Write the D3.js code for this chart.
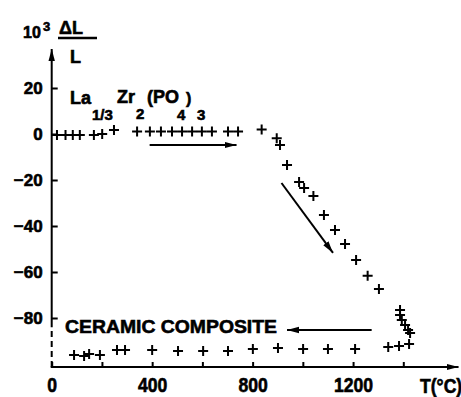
<!DOCTYPE html>
<html><head><meta charset="utf-8">
<script src="https://cdn.jsdelivr.net/npm/d3@7/dist/d3.min.js"></script>
<style>
html,body{margin:0;padding:0;background:#fff;}
svg text{font-family:"Liberation Sans",Arial,Helvetica,sans-serif;font-weight:bold;fill:#000;stroke:#000;stroke-width:0.6px;}
</style></head><body>
<svg id="chart" width="461" height="397"></svg>
<script>
// Heating run: La1/3Zr2(PO4)3, 10^3 ΔL/L versus temperature
const heatT = [21, 55, 84, 112, 168, 201, 248,
  340, 391, 435, 479, 519, 559, 598, 638, 702, 742,
  836, 896, 909, 937, 985, 1005, 1042, 1084, 1128, 1168, 1212, 1258, 1303,
  1387, 1387, 1394, 1407, 1419, 1427];
const heatV = [-0.4, -0.4, -0.4, -0.4, -0.4, 0, 1.7,
  1.1, 1.1, 1.1, 1.1, 1.1, 1.1, 1.1, 1.1, 1.1, 1.1,
  2.0, -1.9, -4.8, -13.5, -20.9, -23.5, -27.0, -35.2, -41.7, -47.8, -54.8, -61.6, -67.4,
  -76.5, -78.7, -80.9, -83.0, -85.2, -86.5];

// Cooling run: ceramic composite
const coolT = [89, 129, 149, 192, 260, 292, 400, 503, 603, 702, 801, 901, 1001, 1100, 1208, 1340, 1383, 1423];
const coolV = [-96.1, -96.5, -95.7, -96.1, -93.9, -93.9, -93.9, -94.3, -94.3, -94.3, -93.5, -93.0, -93.5, -93.5, -93.5, -92.6, -92.2, -91.3];

// Axis ticks and labels
const xTicks = [0, 200, 400, 600, 800, 1000, 1200, 1400];
const xLabels = [0, 400, 800, 1200];
const yTicks = [20, 0, -20, -40, -60, -80];

// Direction arrows, in data units [T, value]
const arrowHeat = [[390, -4.8], [736, -4.8]];
const arrowDrop = [[915, -21.3], [1120, -51.7]];
const arrowCool = [[1274, -85.2], [937, -85.2]];

const svg = d3.select("#chart");
const x = d3.scaleLinear().domain([0, 1400]).range([51.7, 403.3]);
const y = d3.scaleLinear().domain([-100, 20]).range([364, 88]);
const xEnd = 1620, yTop = 37, yBottom = -101.3, yBreak = -84;

const defs = svg.append("defs");
defs.append("marker").attr("id", "head")
  .attr("viewBox", "0 -4 12 8").attr("refX", 12).attr("refY", 0)
  .attr("markerWidth", 12).attr("markerHeight", 8)
  .attr("markerUnits", "userSpaceOnUse").attr("orient", "auto")
  .append("path").attr("d", "M0,-3.2L12,0L0,3.2Z").attr("fill", "#000");

// Axis lines with arrow tips
svg.append("line")
  .attr("x1", x(0)).attr("y1", y(yBreak)).attr("x2", x(0)).attr("y2", y(yTop))
  .attr("stroke", "#000").attr("stroke-width", 2).attr("marker-end", "url(#head)");
svg.append("line")
  .attr("x1", x(0)).attr("y1", y(yBottom)).attr("x2", x(0)).attr("y2", y(yBreak))
  .attr("stroke", "#000").attr("stroke-width", 2).attr("stroke-dasharray", "6,4");
svg.append("line")
  .attr("x1", x(0) - 1).attr("y1", y(yBottom)).attr("x2", x(xEnd)).attr("y2", y(yBottom))
  .attr("stroke", "#000").attr("stroke-width", 2).attr("marker-end", "url(#head)");

// X axis ticks (pointing inward) and labels
const xAxis = svg.append("g").attr("transform", `translate(0,${y(yBottom)})`)
  .call(d3.axisBottom(x).tickValues(xTicks).tickSizeInner(-5).tickSizeOuter(0).tickPadding(11)
    .tickFormat(d => xLabels.includes(d) ? String(d) : ""));
xAxis.select(".domain").remove();
xAxis.selectAll(".tick line").attr("stroke", "#000").attr("stroke-width", 2);
xAxis.selectAll(".tick text").attr("font-size", 20).attr("transform", "scale(0.88,1)")
  .attr("font-family", null).attr("fill", null);

// Y axis ticks and labels
const yAxis = svg.append("g").attr("transform", `translate(${x(0)},0)`)
  .call(d3.axisLeft(y).tickValues(yTicks).tickSizeInner(-6).tickSizeOuter(0).tickPadding(9));
yAxis.select(".domain").remove();
yAxis.selectAll(".tick line").attr("stroke", "#000").attr("stroke-width", 2);
yAxis.selectAll(".tick text").attr("font-size", 17).attr("font-family", null).attr("fill", null);

// Axis titles
svg.append("text").attr("x", 420).attr("y", 393).attr("font-size", 20)
  .attr("transform", "translate(420,0) scale(0.88,1) translate(-420,0)").text("T(°C)");
svg.append("text").attr("x", 23).attr("y", 38).attr("font-size", 16).text("10");
svg.append("text").attr("x", 43).attr("y", 31).attr("font-size", 13).text("3");
svg.append("text").attr("x", 59).attr("y", 34).attr("font-size", 18).text("ΔL");
svg.append("line").attr("x1", 58).attr("x2", 97).attr("y1", 38).attr("y2", 38)
  .attr("stroke", "#000").attr("stroke-width", 2.5);
svg.append("text").attr("x", 70).attr("y", 63).attr("font-size", 18).text("L");

// Formula label
const formula = [
  {t: "La", x: 70, y: 104, s: 18},
  {t: "1/3", x: 92, y: 120, s: 15},
  {t: "Zr", x: 117, y: 103, s: 18},
  {t: "2", x: 136, y: 119, s: 15},
  {t: "(PO", x: 147, y: 103, s: 18},
  {t: "4", x: 177, y: 120, s: 15},
  {t: ")", x: 186, y: 104, s: 16},
  {t: "3", x: 197, y: 120, s: 15}
];
svg.append("g").selectAll("text").data(formula).join("text")
  .attr("x", d => d.x).attr("y", d => d.y).attr("font-size", d => d.s).text(d => d.t);

svg.append("text").attr("x", 65).attr("y", 333).attr("font-size", 19)
  .attr("textLength", 212).attr("lengthAdjust", "spacingAndGlyphs").text("CERAMIC COMPOSITE");

// Direction arrows
for (const a of [arrowHeat, arrowDrop, arrowCool]) {
  svg.append("line")
    .attr("x1", x(a[0][0])).attr("y1", y(a[0][1]))
    .attr("x2", x(a[1][0])).attr("y2", y(a[1][1]))
    .attr("stroke", "#000").attr("stroke-width", 2).attr("marker-end", "url(#head)");
}

// Data markers: plus signs
const plus = "M-5,0H5M0,-5V5";
function drawSeries(T, V) {
  svg.append("g").selectAll("path").data(T.map((t, i) => [t, V[i]])).join("path")
    .attr("transform", d => `translate(${x(d[0])},${y(d[1])})`)
    .attr("d", plus).attr("stroke", "#000").attr("stroke-width", 2).attr("fill", "none");
}
drawSeries(heatT, heatV);
drawSeries(coolT, coolV);
</script>
</body></html>
